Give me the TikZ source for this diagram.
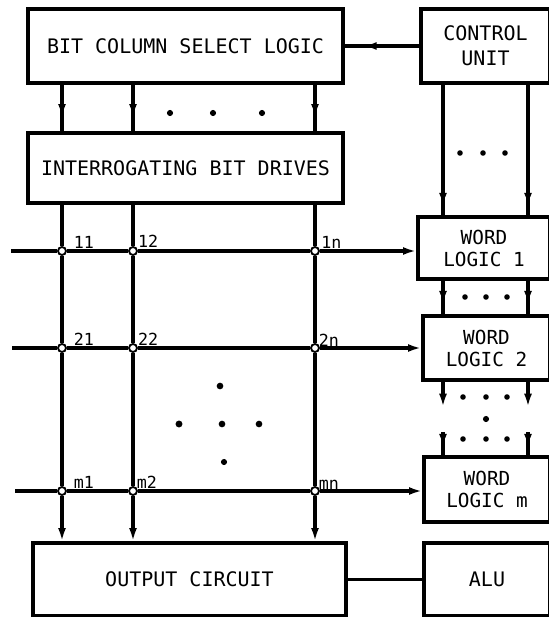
\documentclass[tikz,border=0pt]{standalone}
\usepackage{fontspec}
\newfontfamily\leroy{DejaVu Sans Mono}
\usetikzlibrary{decorations.markings,arrows.meta,positioning}

\begin{document}
\begin{tikzpicture}[x=0.75pt,y=-0.75pt,>={Latex[length=10pt,width=6pt]},
  box/.style={draw,line width=2.5pt,inner sep=0pt,align=center,font=\leroy\fontsize{15}{19}\selectfont},
  wordbox/.style={box,font=\leroy\fontsize{14.5}{16.5}\selectfont},
  wh/.style 2 args={minimum width=#1*0.75pt,minimum height=#2*0.75pt},
  cross/.style={circle,draw,fill=white,inner sep=0pt,minimum size=6pt,line width=1.4pt},
  lbl/.style={inner sep=1pt,font=\leroy\fontsize{12.5}{14}\selectfont},
  link/.style={line width=2.5pt},
  midarrow/.style={link,postaction={decorate},decoration={markings,mark=at position #1 with {\arrow{>}}}}]
\useasboundingbox (0,0) rectangle (549,617);

% blocks
\node[box,wh={315}{74}] (bcsl) at (185.5,46) {BIT COLUMN SELECT LOGIC};
\node[box,wh={129}{74}] (cu) at (485.5,46) {CONTROL\\UNIT};
\node[box,wh={315}{70}] (ibd) at (185.5,168) {INTERROGATING BIT DRIVES};
\node[wordbox,wh={132}{62}] (wl1) at (484,248) {WORD\\LOGIC 1};
\node[wordbox,wh={127}{64}] (wl2) at (486.5,348) {WORD\\LOGIC 2};
\node[wordbox,wh={126}{65}] (wlm) at (487,489.5) {WORD\\LOGIC m};
\node[box,wh={313}{73}] (out) at (189.5,579.5) {OUTPUT CIRCUIT};
\node[box,wh={126}{73}] (alu) at (487,579.5) {ALU};

% memory cells
\node[cross] (c11) at (62,251) {};
\node[cross] (c12) at (133,251) {};
\node[cross] (c1n) at (315,251) {};
\node[cross] (c21) at (62,348) {};
\node[cross] (c22) at (133,348) {};
\node[cross] (c2n) at (315,348) {};
\node[cross] (cm1) at (62,491) {};
\node[cross] (cm2) at (133,491) {};
\node[cross] (cmn) at (315,491) {};

\node[lbl,above right=-2pt and 5pt of c11] (l11) {11};
\node[lbl,above right=-1pt and 0pt of c12] (l12) {12};
\node[lbl,above right=-2pt and 1pt of c1n] (l1n) {1n};
\node[lbl,above right=-2pt and 5pt of c21] (l21) {21};
\node[lbl,above right=-2pt and 0pt of c22] (l22) {22};
\node[lbl,above right=-3pt and -1pt of c2n] (l2n) {2n};
\node[lbl,above right=-2pt and 5pt of cm1] (lm1) {m1};
\node[lbl,above right=-2pt and -1pt of cm2] (lm2) {m2};
\node[lbl,above right=-3pt and -1pt of cmn] (lmn) {mn};

\coordinate (r1) at (11,251);
\coordinate (r2) at (12,348);
\coordinate (rm) at (15,491);
\coordinate (ka) at (443,0);
\coordinate (kb) at (528,0);
\coordinate (ea) at (443,407);
\coordinate (eb) at (528,407);
\coordinate (fa) at (443,432);
\coordinate (fb) at (528,432);

% word lines
\draw[link,->] (r1) -- (c11) -- (c12) -- (c1n) -- (c1n -| wl1.west);
\draw[link,->] (r2) -- (c21) -- (c22) -- (c2n) -- (c2n -| wl2.west);
\draw[link,->] (rm) -- (cm1) -- (cm2) -- (cmn) -- (cmn -| wlm.west);

% bit lines
\draw[midarrow=0.7] (bcsl.south -| c11) -- (ibd.north -| c11);
\draw[midarrow=0.7] (bcsl.south -| c12) -- (ibd.north -| c12);
\draw[midarrow=0.7] (bcsl.south -| c1n) -- (ibd.north -| c1n);
\draw[link,->] (ibd.south -| c11) -- (c11) -- (c21) -- (cm1) -- (out.north -| cm1);
\draw[link,->] (ibd.south -| c12) -- (c12) -- (c22) -- (cm2) -- (out.north -| cm2);
\draw[link,->] (ibd.south -| c1n) -- (c1n) -- (c2n) -- (cmn) -- (out.north -| cmn);

% control
\draw[midarrow=0.75] (cu.west) -- (bcsl.east);
\draw[midarrow=0.93] (cu.south -| ka) -- (wl1.north -| ka);
\draw[midarrow=0.93] (cu.south -| kb) -- (wl1.north -| kb);
\draw[midarrow=0.7] (wl1.south -| ka) -- (wl2.north -| ka);
\draw[midarrow=0.7] (wl1.south -| kb) -- (wl2.north -| kb);
\draw[link,->] (wl2.south -| ea) -- (ea);
\draw[link,->] (wl2.south -| eb) -- (eb);
\draw[midarrow=0.65] (fa) -- (wlm.north -| fa);
\draw[midarrow=0.65] (fb) -- (wlm.north -| fb);
\draw[link] (out.east) -- (alu.west);

% dots
\fill (170,113) circle (2.3pt);
\fill (213,113) circle (2.3pt);
\fill (262,113) circle (2.3pt);
\fill (460,153) circle (2.1pt);
\fill (483,153) circle (2.1pt);
\fill (505,153) circle (2.1pt);
\fill (465,297) circle (2.1pt);
\fill (486,297) circle (2.1pt);
\fill (507,297) circle (2.1pt);
\fill (463,397) circle (2.1pt);
\fill (486,397) circle (2.1pt);
\fill (507,397) circle (2.1pt);
\fill (486,419) circle (2.3pt);
\fill (463,439) circle (2.1pt);
\fill (486,439) circle (2.1pt);
\fill (507,439) circle (2.1pt);
\fill (220,386) circle (2.5pt);
\fill (179,424) circle (2.6pt);
\fill (222,424) circle (2.5pt);
\fill (259,424) circle (2.5pt);
\fill (224,462) circle (2.3pt);
\end{tikzpicture}
\end{document}
